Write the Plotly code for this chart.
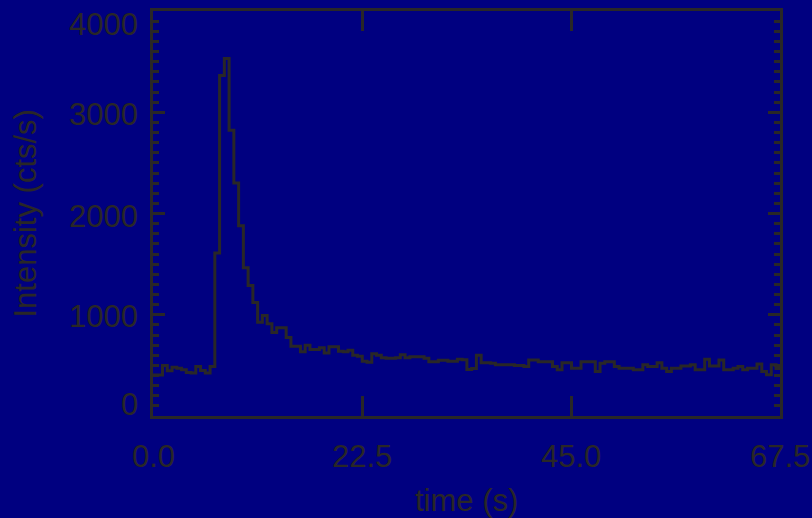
import numpy as np
import plotly.graph_objects as go

# ---- data -------------------------------------------------------------
BIN_WIDTH_S = 0.512
count_rate = [
    405, 405, 498, 446, 482, 472, 456, 430, 425, 488,
    449, 425, 488, 1610, 3363, 3530, 2823, 2302, 1880, 1463,
    1290, 1122, 927, 992, 911, 825, 872, 872, 775, 690,
    690, 634, 700, 657, 657, 674, 622, 684, 684, 640,
    635, 650, 600, 590, 540, 530, 615, 600, 575, 570,
    570, 575, 605, 575, 585, 585, 585, 570, 535, 535,
    550, 550, 540, 540, 560, 555, 460, 470, 600, 527,
    527, 520, 505, 505, 505, 505, 498, 498, 488, 553,
    553, 537, 537, 537, 488, 456, 527, 527, 472, 472,
    537, 537, 537, 439, 521, 537, 537, 488, 472, 472,
    472, 456, 456, 505, 488, 488, 527, 472, 439, 472,
    472, 495, 495, 505, 456, 456, 560, 495, 495, 553,
    456, 456, 472, 488, 456, 472, 472, 514, 439, 407,
    505, 470,
]
x_tick_values = [0.0, 22.5, 45.0, 67.5]
x_tick_labels = ["0.0", "22.5", "45.0", "67.5"]
y_tick_values = [0, 1000, 2000, 3000, 4000]
y_tick_labels = ["0", "1000", "2000", "3000", "4000"]
x_title = "time (s)"
y_title = "Intensity (cts/s)"

# ---- figure -----------------------------------------------------------
n = len(count_rate)
edges = np.arange(n + 1) * BIN_WIDTH_S
yvals = list(count_rate) + [count_rate[-1]]

INK = "#292727"
BG = "#000080"
FONT = "Liberation Sans, Arial, Helvetica, sans-serif"
FS = 31

fig = go.Figure()
fig.add_trace(go.Scatter(
    x=edges, y=yvals, mode="lines", line_shape="hv",
    line=dict(color=INK, width=3), showlegend=False, hoverinfo="skip",
))

fig.update_xaxes(
    range=[0, 67.5], showgrid=False, zeroline=False,
    showline=True, linewidth=3, linecolor=INK, mirror="ticks",
    tickvals=x_tick_values, ticks="inside", ticklen=20, tickwidth=3,
    tickcolor=INK, showticklabels=False,
)
fig.update_yaxes(
    range=[0, 4000], showgrid=False, zeroline=False,
    showline=True, linewidth=3, linecolor=INK, mirror="ticks",
    tickvals=y_tick_values, ticks="inside", ticklen=12, tickwidth=3,
    tickcolor=INK, showticklabels=False,
    minor=dict(dtick=100, ticks="inside", ticklen=6, tickwidth=3, tickcolor=INK),
)

font = dict(family=FONT, size=FS, color=INK)
annotations = []
y_shifts = {0: 12, 1000: -2, 2000: -3, 3000: -2, 4000: -13}
for v, lab in zip(y_tick_values, y_tick_labels):
    annotations.append(dict(
        x=0, xref="paper", y=v, yref="y", text=lab, showarrow=False,
        xanchor="right", yanchor="middle", xshift=-13, yshift=y_shifts[v], font=font,
    ))
for v, lab in zip(x_tick_values, x_tick_labels):
    annotations.append(dict(
        x=v, xref="x", y=0, yref="paper", text=lab, showarrow=False,
        xanchor="center", yanchor="middle", yshift=-40, font=font,
    ))
annotations.append(dict(
    x=0.5, xref="paper", y=0, yref="paper", text=x_title, showarrow=False,
    xanchor="center", yanchor="middle", yshift=-84, font=font,
))
annotations.append(dict(
    x=0, xref="paper", y=0.5, yref="paper", text=y_title, showarrow=False,
    textangle=-90, xanchor="center", yanchor="middle", xshift=-128, font=font,
))

fig.update_layout(
    width=812, height=518,
    margin=dict(l=153, r=32, t=8, b=102, pad=0),
    paper_bgcolor=BG, plot_bgcolor=BG,
    annotations=annotations,
)

fig.write_html(
    "out.html",
    config={"displayModeBar": False},
    post_script="document.body.style.margin='0';document.body.style.background='#000080';",
)
